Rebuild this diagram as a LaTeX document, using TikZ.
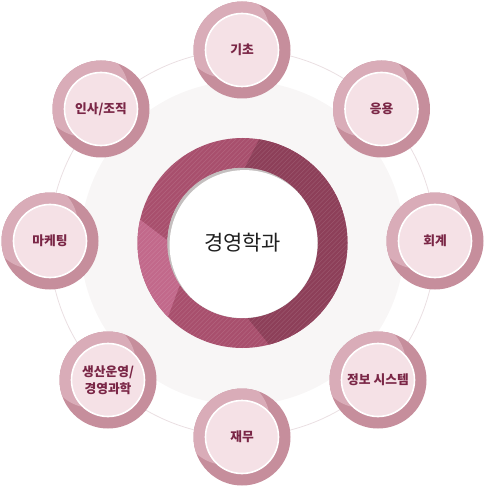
\documentclass[tikz,border=0pt]{standalone}
\usepackage{fontspec}
\newfontfamily\kr{Noto Sans CJK KR}
\definecolor{bgA}{HTML}{F8F6F6}
\definecolor{bgB}{HTML}{F4F1F1}
\definecolor{bgC}{HTML}{ECE8E8}
\definecolor{bgD}{HTML}{F3F1F1}
\definecolor{orbit}{HTML}{EADFE2}
\definecolor{ringmid}{HTML}{A84F6D}
\definecolor{ringdark}{HTML}{8D3F59}
\definecolor{ringlight}{HTML}{C2698B}
\definecolor{satdark}{HTML}{C68E9C}
\definecolor{satlight}{HTML}{D9ACB8}
\definecolor{satin}{HTML}{F5E1E6}
\definecolor{sattext}{HTML}{7A2646}
\definecolor{holeshadow}{HTML}{C4BFBF}
\pgfdeclareradialshading{bgshade}{\pgfpoint{0bp}{0bp}}{color(0bp)=(bgA); color(32bp)=(bgA); color(44bp)=(bgB); color(48.2bp)=(bgC); color(48.6bp)=(bgD); color(50bp)=(white)}
\newcommand\satnode[4]{%
  \fill[satdark] (#2,#3) circle[radius=48.5];
  \begin{scope}
    \clip (#2,#3) circle[radius=48.5];
    \fill[satlight] (#2-16,#3-16) circle[radius=44];
  \end{scope}
  \node[satinner] (#1) at (#2,#3) {#4};
}
\tikzset{
  satinner/.style={circle, minimum size=73bp, inner sep=0pt, fill=satin, draw=white,
    line width=1.6bp, text=sattext, align=center,
    font=\kr\bfseries\fontsize{12.8}{17}\selectfont},
  corelabel/.style={circle, minimum size=148bp, inner sep=0pt, text=black!88,
    font=\kr\fontsize{21}{25}\selectfont}
}
\begin{document}
\begin{tikzpicture}[x=1bp,y=-1bp]
\useasboundingbox (0,0) rectangle (487,487);
\coordinate (C) at (242.5,243);
% background disc
\shade[shading=bgshade] (C) circle[radius=162];
% orbit line
\draw[orbit, line width=0.8bp] (C) circle[radius=193];
% center ring
\begin{scope}[even odd rule]
  \clip (C) circle[radius=105] (C) circle[radius=75];
  \fill[ringmid] (C) circle[radius=106];
  \fill[ringdark] (274,110) -- (380,110) -- (380,380) -- (297.8,380) -- (199,258) -- cycle;
  \fill[ringlight] (110,196.8) -- (190,257.5) -- (144.5,380) -- (110,380) -- cycle;
  \foreach \i in {-160,-155.5,...,160}
    \draw[white, opacity=0.12, line width=0.5bp] (130+\i,360) -- (360+\i,130);
\end{scope}
% hole with inner shadow
\fill[holeshadow] (C) circle[radius=75.2];
\begin{scope}
  \clip (C) circle[radius=75];
  \fill[white] (244.6,245.1) circle[radius=75];
\end{scope}
\node[corelabel] (core) at (C) {경영학과};
% satellites
\satnode{s1}{242}{50}{기초}
\satnode{s2}{381.5}{109}{응용}
\satnode{s3}{435}{241}{회계}
\satnode{s4}{378}{380}{정보 시스템}
\satnode{s5}{242}{437}{재무}
\satnode{s6}{108}{380}{생산운영/\\경영과학}
\satnode{s7}{50}{241}{마케팅}
\satnode{s8}{101}{109}{인사/조직}
\end{tikzpicture}
\end{document}
